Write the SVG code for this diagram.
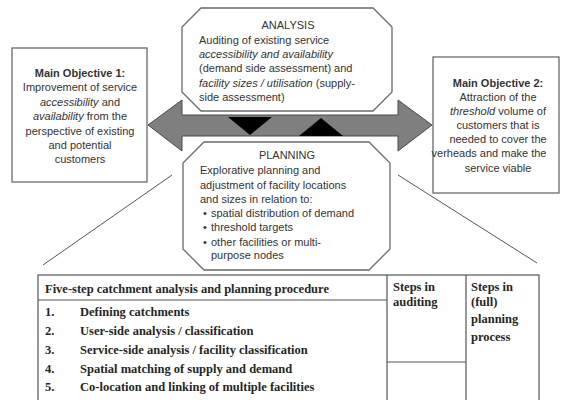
<svg xmlns="http://www.w3.org/2000/svg" width="561" height="400" viewBox="0 0 561 400">
<style>
.box{fill:#fff;stroke:#6a6a6a;stroke-width:1.3}
.oct{fill:#fff;stroke:#6a6a6a;stroke-width:1.3}
.s{font-family:"Liberation Sans",Arial,sans-serif;font-size:11px;fill:#333}
.c{text-anchor:middle}
.b{font-weight:bold}
.i{font-style:italic}
.t{font-family:"Liberation Serif","Times New Roman",serif;font-size:12.5px;font-weight:bold;fill:#262626}
.ln{stroke:#555;stroke-width:1;fill:none}
.tb{stroke:#555;stroke-width:1.2;fill:none}
</style>
<rect width="561" height="400" fill="#fff"/>
<g id="connectors">
<polygon id="double-arrow" points="148,125 182,100 182,115 398,115 398,100 432,125 398,151 398,136 182,136 182,151" fill="#7f7f7f" stroke="#4a4a4a" stroke-width="1"/>
<polygon id="tri-down" points="228,117 272,117 250,135" fill="#000"/>
<polygon id="tri-up" points="299,136 343,136 321,118" fill="#000"/>
<line class="ln" x1="172" y1="175" x2="43" y2="265"/>
<line class="ln" x1="398" y1="175" x2="537" y2="263"/>
</g>
<g id="objective1">
<rect class="box" x="12" y="48" width="135" height="134"/>
<text class="s c" x="80"><tspan class="b" x="80" y="77">Main Objective 1:</tspan><tspan x="80" y="91">Improvement of service</tspan><tspan x="80" y="106"><tspan class="i">accessibility</tspan> and</tspan><tspan x="80" y="120"><tspan class="i">availability</tspan> from the</tspan><tspan x="80" y="135">perspective of existing</tspan><tspan x="80" y="149">and potential</tspan><tspan x="80" y="163">customers</tspan></text>
</g>
<g id="objective2">
<rect class="box" x="433" y="57" width="126" height="136"/>
<text class="s c"><tspan class="b" x="498" y="87">Main Objective 2:</tspan><tspan x="498" y="101">Attraction of the</tspan><tspan x="498" y="115"><tspan class="i">threshold</tspan> volume of</tspan><tspan x="498" y="129">customers that is</tspan><tspan x="498" y="143">needed to cover the</tspan><tspan x="489" y="157">verheads and make the</tspan><tspan x="498" y="172">service viable</tspan></text>
</g>
<g id="analysis">
<polygon class="oct" points="201,8 373,8 392,27 392,92 373,111 201,111 182,92 182,27"/>
<text class="s"><tspan class="c" x="288" y="29">ANALYSIS</tspan><tspan x="199" y="43.5">Auditing of existing service</tspan><tspan class="i" x="199" y="58">accessibility and availability</tspan><tspan x="199" y="72">(demand side assessment)  and</tspan><tspan x="199" y="87"><tspan class="i">facility sizes / utilisation</tspan> (supply-</tspan><tspan x="199" y="101">side assessment)</tspan></text>
</g>
<g id="planning">
<polygon class="oct" points="204,142 369,142 390,163 390,249 369,270 204,270 183,249 183,163"/>
<text class="s"><tspan class="c" x="287" y="159">PLANNING</tspan><tspan x="200" y="174">Explorative planning and</tspan><tspan x="200" y="189">adjustment of facility locations</tspan><tspan x="200" y="203">and sizes in relation to:</tspan><tspan x="203" y="217">•</tspan><tspan x="211" y="217">spatial distribution of demand</tspan><tspan x="203" y="231">•</tspan><tspan x="211" y="231">threshold targets</tspan><tspan x="203" y="246">•</tspan><tspan x="211" y="246">other facilities or multi-</tspan><tspan x="211" y="259">purpose nodes</tspan></text>
</g>
<g id="table">
<rect class="tb" x="38" y="275" width="501" height="130"/>
<line class="tb" x1="38" y1="300" x2="387" y2="300"/>
<line class="tb" x1="387" y1="275" x2="387" y2="405"/>
<line class="tb" x1="466" y1="275" x2="466" y2="405"/>
<line class="tb" x1="387" y1="362" x2="466" y2="362"/>
<text class="t" x="45" y="293">Five-step catchment analysis and planning procedure</text>
<text class="t"><tspan x="45" y="316">1.</tspan><tspan x="80" y="316">Defining catchments</tspan><tspan x="45" y="335">2.</tspan><tspan x="80" y="335">User-side analysis / classification</tspan><tspan x="45" y="354">3.</tspan><tspan x="80" y="354">Service-side analysis / facility classification</tspan><tspan x="45" y="373">4.</tspan><tspan x="80" y="373">Spatial matching of supply and demand</tspan><tspan x="45" y="391">5.</tspan><tspan x="80" y="391">Co-location and linking of multiple facilities</tspan></text>
<text class="t"><tspan x="393" y="291">Steps in</tspan><tspan x="393" y="306">auditing</tspan></text>
<text class="t"><tspan x="471" y="291">Steps in</tspan><tspan x="471" y="306">(full)</tspan><tspan x="471" y="323">planning</tspan><tspan x="471" y="341">process</tspan></text>
</g>
</svg>
